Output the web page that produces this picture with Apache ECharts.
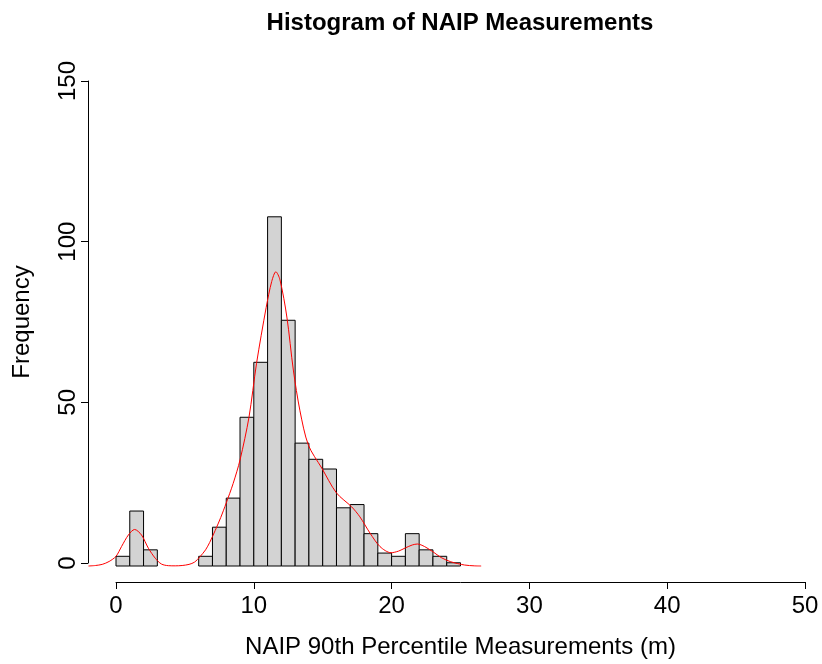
<!DOCTYPE html>
<html>
<head>
<meta charset="utf-8">
<script src="https://cdn.jsdelivr.net/npm/echarts@6/dist/echarts.min.js"></script>
<style>
html,body{margin:0;padding:0;background:#fff;}
#chart{width:822px;height:664px;}
</style>
</head>
<body>
<div id="chart"></div>
<script>
// Histogram bins (left edges, width 1) and counts
const binStarts = [0,1,2,3,4,5,6,7,8,9,10,11,12,13,14,15,16,17,18,19,20,21,22,23,24];
const binCounts = [3,17,5,0,0,0,3,12,21,46,63,108,76,38,33,30,18,19,10,4,3,10,5,3,1];
const binWidth = 1;

// Density curve scaled to frequency
const densX = [-2.0,-1.5,-1.0,-0.5,0.0,0.4,0.9,1.35,1.85,2.35,2.85,3.3,3.8,4.3,4.8,5.3,5.7,6.1,6.5,6.8,7.2,7.6,8.0,8.5,9.0,9.65,10.2,10.9,11.3,11.6,11.9,12.4,12.87,13.35,13.96,14.93,16.0,17.1,17.7,18.43,19.16,19.96,20.5,21.0,21.5,21.87,22.4,23.0,23.6,24.3,25.3,26.0,26.5];
const densY = [0,0.15,0.5,1.4,3.0,6.0,9.6,11.3,9.6,5.5,2.4,0.6,0.1,0.05,0.15,0.5,1.2,2.9,5,7.3,11,15,19.5,25.5,32.8,46,62.7,80,88,91,88.5,77,60.6,48,37.4,30.3,22.6,18.3,15.2,10.2,6,4.1,4.6,5.6,6.5,6.8,6,4.4,2.6,1.3,0.3,0.05,0];

const xTicks = [0,10,20,30,40,50];
const yTicks = [0,50,100,150];
const xPlotRange = [-2, 50];   // data region (R extends the axis on the left)

const titleText = 'Histogram of NAIP Measurements';
const xName = 'NAIP 90th Percentile Measurements (m)';
const yName = 'Frequency';

const FONT = '"Liberation Sans", Arial, Helvetica, sans-serif';

const histData = binStarts.map((s, i) => [s, s + binWidth, binCounts[i]]).filter(d => d[2] > 0);
const curveData = densX.map((x, i) => [x, densY[i]]);

const pxPerUnit = 689 / (xTicks[xTicks.length - 1] - xTicks[0]);

const chart = echarts.init(document.getElementById('chart'), null, {renderer: 'canvas'});
chart.setOption({
  backgroundColor: '#ffffff',
  animation: false,
  title: {
    text: titleText,
    left: 455, top: 6,
    textAlign: 'center',
    textStyle: {fontFamily: FONT, fontSize: 24, fontWeight: 'bold', color: '#000'}
  },
  grid: [
    {left: 116 - pxPerUnit * (xTicks[0] - xPlotRange[0]), top: 81, width: pxPerUnit * (xPlotRange[1] - xPlotRange[0]), height: 485},
    {left: 116, top: 81, width: 689, height: 485}
  ],
  xAxis: [
    {gridIndex: 0, type: 'value', min: xPlotRange[0], max: xPlotRange[1], show: false},
    {
      gridIndex: 1, type: 'value',
      min: xTicks[0], max: xTicks[xTicks.length - 1], interval: 10,
      offset: 19,
      axisLine: {show: true, onZero: false, lineStyle: {color: '#000', width: 1}},
      axisTick: {show: true, length: 7, lineStyle: {color: '#000'}},
      splitLine: {show: false},
      axisLabel: {fontFamily: FONT, fontSize: 24, color: '#000', margin: 12},
      name: xName,
      nameLocation: 'middle',
      nameGap: 53,
      nameTextStyle: {fontFamily: FONT, fontSize: 24, color: '#000'}
    }
  ],
  yAxis: [
    {gridIndex: 0, type: 'value', min: yTicks[0], max: yTicks[yTicks.length - 1], show: false},
    {
      gridIndex: 1, type: 'value',
      min: yTicks[0], max: yTicks[yTicks.length - 1], interval: 50,
      offset: 28,
      axisLine: {show: true, onZero: false, lineStyle: {color: '#000', width: 1}},
      axisTick: {show: true, length: 7, lineStyle: {color: '#000'}},
      splitLine: {show: false},
      axisLabel: {fontFamily: FONT, fontSize: 24, color: '#000', margin: 8, rotate: 90},
      name: yName,
      nameLocation: 'middle',
      nameGap: 54,
      nameRotate: 90,
      nameTextStyle: {fontFamily: FONT, fontSize: 24, color: '#000'}
    }
  ],
  series: [
    {
      type: 'custom',
      xAxisIndex: 0, yAxisIndex: 0,
      data: histData,
      encode: {x: [0, 1], y: 2},
      clip: false,
      renderItem: function (params, api) {
        const x0 = api.value(0), x1 = api.value(1), c = api.value(2);
        const p0 = api.coord([x0, c]);
        const p1 = api.coord([x1, 0]);
        return {
          type: 'rect',
          shape: {x: p0[0], y: p0[1], width: p1[0] - p0[0], height: p1[1] - p0[1]},
          style: {fill: '#D3D3D3', stroke: '#000', lineWidth: 1}
        };
      },
      z: 2
    },
    {
      type: 'line',
      xAxisIndex: 0, yAxisIndex: 0,
      data: curveData,
      smooth: 0.3,
      showSymbol: false,
      symbol: 'none',
      clip: false,
      lineStyle: {color: '#ff0000', width: 1},
      z: 3
    }
  ]
});
</script>
</body>
</html>
